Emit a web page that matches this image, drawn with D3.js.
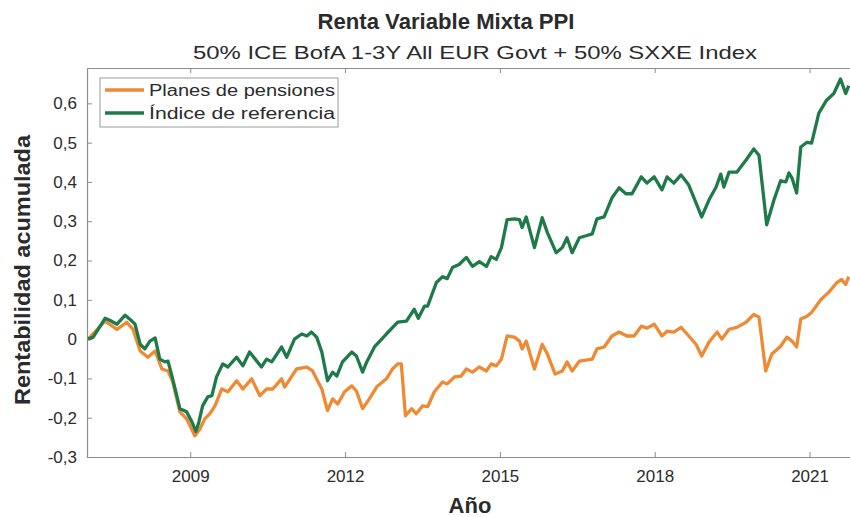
<!DOCTYPE html>
<html lang="es">
<head>
<meta charset="UTF-8">
<title>Renta Variable Mixta PPI</title>
<script src="https://d3js.org/d3.v7.min.js"></script>
<style>
    body { margin: 0; background: #fff; }
    text { font-family: "Liberation Sans", Arial, sans-serif; fill: #2b2b2b; }
</style>
</head>
<body>
<div id="chart"></div>
<script>
// series (decimal year, cumulative return)
var planYears = [2007.02, 2007.35, 2007.58, 2007.77, 2007.89, 2008.03, 2008.18, 2008.32, 2008.45, 2008.57,
    2008.66, 2008.80, 2008.93, 2009.09, 2009.19, 2009.28, 2009.38, 2009.48, 2009.61, 2009.73,
    2009.90, 2010.02, 2010.19, 2010.35, 2010.48, 2010.60, 2010.77, 2010.83, 2011.06, 2011.26,
    2011.37, 2011.55, 2011.66, 2011.76, 2011.86, 2011.99, 2012.13, 2012.22, 2012.34, 2012.47,
    2012.61, 2012.80, 2012.92, 2013.02, 2013.09, 2013.17, 2013.29, 2013.38, 2013.50, 2013.60,
    2013.73, 2013.89, 2013.98, 2014.12, 2014.25, 2014.35, 2014.47, 2014.60, 2014.74, 2014.83,
    2014.93, 2015.03, 2015.14, 2015.28, 2015.38, 2015.43, 2015.51, 2015.67, 2015.82, 2015.92,
    2016.07, 2016.21, 2016.30, 2016.40, 2016.54, 2016.79, 2016.88, 2017.02, 2017.17, 2017.31,
    2017.46, 2017.60, 2017.74, 2017.85, 2017.99, 2018.14, 2018.24, 2018.37, 2018.51, 2018.66,
    2018.80, 2018.91, 2019.05, 2019.21, 2019.30, 2019.44, 2019.59, 2019.77, 2019.92, 2020.02,
    2020.15, 2020.27, 2020.44, 2020.56, 2020.66, 2020.75, 2020.83, 2020.95, 2021.04, 2021.22,
    2021.37, 2021.53, 2021.62, 2021.70, 2021.76];
var planValues = [0.000, 0.046, 0.025, 0.043, 0.025, -0.030, -0.046, -0.030, -0.076, -0.081,
    -0.109, -0.185, -0.203, -0.246, -0.228, -0.203, -0.190, -0.170, -0.127, -0.134,
    -0.106, -0.127, -0.101, -0.144, -0.127, -0.127, -0.101, -0.122, -0.076, -0.071,
    -0.081, -0.127, -0.182, -0.152, -0.165, -0.134, -0.119, -0.132, -0.177, -0.152,
    -0.122, -0.101, -0.076, -0.063, -0.063, -0.195, -0.177, -0.190, -0.170, -0.172,
    -0.134, -0.109, -0.114, -0.096, -0.094, -0.076, -0.084, -0.071, -0.081, -0.063,
    -0.068, -0.051, 0.008, 0.005, -0.005, -0.025, -0.005, -0.076, -0.013, -0.038,
    -0.089, -0.081, -0.058, -0.081, -0.056, -0.051, -0.025, -0.020, 0.008, 0.018,
    0.008, 0.008, 0.033, 0.028, 0.038, 0.008, 0.020, 0.018, 0.030, 0.008,
    -0.013, -0.043, -0.008, 0.018, 0.000, 0.025, 0.030, 0.043, 0.063, 0.056,
    -0.081, -0.038, -0.018, 0.005, -0.005, -0.020, 0.051, 0.058, 0.068, 0.101,
    0.119, 0.144, 0.152, 0.139, 0.159];

var indexYears = [2007.02, 2007.12, 2007.35, 2007.44, 2007.58, 2007.74, 2007.87, 2007.93, 2008.03, 2008.12,
    2008.22, 2008.32, 2008.41, 2008.51, 2008.57, 2008.66, 2008.80, 2008.93, 2009.03, 2009.11,
    2009.17, 2009.24, 2009.34, 2009.42, 2009.51, 2009.63, 2009.73, 2009.90, 2010.02, 2010.15,
    2010.29, 2010.38, 2010.48, 2010.58, 2010.77, 2010.87, 2011.02, 2011.16, 2011.26, 2011.35,
    2011.45, 2011.55, 2011.66, 2011.76, 2011.84, 2011.95, 2012.13, 2012.22, 2012.34, 2012.42,
    2012.57, 2012.80, 2013.02, 2013.19, 2013.34, 2013.42, 2013.54, 2013.60, 2013.77, 2013.89,
    2013.98, 2014.08, 2014.21, 2014.35, 2014.47, 2014.60, 2014.74, 2014.83, 2014.93, 2015.03,
    2015.14, 2015.28, 2015.38, 2015.43, 2015.51, 2015.67, 2015.82, 2015.92, 2016.09, 2016.21,
    2016.30, 2016.40, 2016.54, 2016.67, 2016.79, 2016.88, 2017.02, 2017.17, 2017.31, 2017.44,
    2017.56, 2017.74, 2017.85, 2017.99, 2018.14, 2018.24, 2018.37, 2018.51, 2018.66, 2018.80,
    2018.91, 2019.05, 2019.19, 2019.28, 2019.34, 2019.44, 2019.59, 2019.77, 2019.92, 2020.02,
    2020.17, 2020.31, 2020.44, 2020.54, 2020.60, 2020.66, 2020.75, 2020.83, 2020.95, 2021.04,
    2021.18, 2021.33, 2021.47, 2021.60, 2021.70, 2021.76];
var indexValues = [0.000, 0.005, 0.053, 0.048, 0.038, 0.061, 0.046, 0.038, -0.013, -0.025,
    -0.005, 0.003, -0.051, -0.058, -0.056, -0.101, -0.177, -0.185, -0.210, -0.235,
    -0.210, -0.170, -0.147, -0.144, -0.096, -0.063, -0.071, -0.046, -0.068, -0.033,
    -0.056, -0.071, -0.051, -0.058, -0.020, -0.046, 0.000, 0.013, 0.008, 0.018,
    0.005, -0.033, -0.106, -0.084, -0.094, -0.058, -0.033, -0.043, -0.084, -0.058,
    -0.020, 0.013, 0.043, 0.046, 0.076, 0.053, 0.084, 0.084, 0.144, 0.159,
    0.154, 0.182, 0.190, 0.208, 0.185, 0.197, 0.185, 0.210, 0.203, 0.233,
    0.304, 0.306, 0.304, 0.284, 0.311, 0.233, 0.309, 0.271, 0.220, 0.233,
    0.258, 0.220, 0.258, 0.263, 0.268, 0.306, 0.311, 0.359, 0.385, 0.370,
    0.370, 0.413, 0.397, 0.413, 0.380, 0.413, 0.397, 0.418, 0.392, 0.347,
    0.311, 0.354, 0.387, 0.420, 0.387, 0.425, 0.425, 0.456, 0.484, 0.468,
    0.291, 0.354, 0.403, 0.400, 0.423, 0.410, 0.372, 0.489, 0.501, 0.499,
    0.575, 0.608, 0.625, 0.662, 0.625, 0.645];

var seriesNames = ["Planes de pensiones", "Índice de referencia"];
var seriesColors = ["#ee8a33", "#1f7a4a"];
var xTicks = [2009, 2012, 2015, 2018, 2021];
var yTicks = [-0.3, -0.2, -0.1, 0, 0.1, 0.2, 0.3, 0.4, 0.5, 0.6];

var W = 850, H = 517;
var margin = { left: 87, right: 856, top: 68, bottom: 457 };

var svg = d3.select("#chart").append("svg")
    .attr("width", W)
    .attr("height", H);

svg.append("rect").attr("width", W).attr("height", H).attr("fill", "#fff");

var x = d3.scaleLinear().domain([2007, 2021.9]).range([margin.left, margin.right]);
var y = d3.scaleLinear().domain([-0.3, 0.69]).range([margin.bottom, margin.top]);

var fmt = function(v) {
    var s = (+v.toFixed(1)).toString();
    return s.replace(".", ",");
};

var axisColor = "#8c8c8c";

// x axis, ticks pointing inward like the original
var xAxis = svg.append("g")
    .attr("transform", "translate(0," + margin.bottom + ")")
    .call(d3.axisBottom(x).tickValues(xTicks).tickSizeInner(-5).tickSizeOuter(0).tickPadding(13).tickFormat(d3.format("d")));
var xTop = svg.append("g")
    .attr("transform", "translate(0," + margin.top + ")")
    .call(d3.axisTop(x).tickValues(xTicks).tickSizeInner(-5).tickSizeOuter(0).tickFormat(""));
var yAxis = svg.append("g")
    .attr("transform", "translate(" + margin.left + ",0)")
    .call(d3.axisLeft(y).tickValues(yTicks).tickSizeInner(-5).tickSizeOuter(0).tickPadding(10).tickFormat(fmt));

[xAxis, xTop, yAxis].forEach(function(g) {
    g.select(".domain").attr("stroke", axisColor).attr("stroke-width", 1.2);
    g.selectAll(".tick line").attr("stroke", axisColor);
    g.selectAll(".tick text")
        .style("font-family", "'Liberation Sans', Arial, sans-serif")
        .style("font-size", "17px")
        .attr("fill", "#2b2b2b");
});

// lines
var line = d3.line()
    .x(function(d) { return x(d[0]); })
    .y(function(d) { return y(d[1]); });

var planData = planYears.map(function(t, i) { return [t, planValues[i]]; });
var indexData = indexYears.map(function(t, i) { return [t, indexValues[i]]; });

[planData, indexData].forEach(function(data, i) {
    svg.append("path")
        .datum(data)
        .attr("fill", "none")
        .attr("stroke", seriesColors[i])
        .attr("stroke-width", 3.3)
        .attr("stroke-linejoin", "round")
        .attr("d", line);
});

// titles
svg.append("text")
    .attr("x", 446).attr("y", 29)
    .attr("text-anchor", "middle")
    .style("font-size", "22px").style("font-weight", "bold")
    .attr("textLength", 257).attr("lengthAdjust", "spacingAndGlyphs")
    .text("Renta Variable Mixta PPI");

svg.append("text")
    .attr("x", 475).attr("y", 59)
    .attr("text-anchor", "middle")
    .style("font-size", "18px")
    .attr("textLength", 564).attr("lengthAdjust", "spacingAndGlyphs")
    .text("50% ICE BofA 1-3Y All EUR Govt  + 50% SXXE Index");

svg.append("text")
    .attr("x", 470).attr("y", 513)
    .attr("text-anchor", "middle")
    .style("font-size", "22px").style("font-weight", "bold")
    .text("Año");

svg.append("text")
    .attr("transform", "translate(30,270) rotate(-90)")
    .attr("text-anchor", "middle")
    .style("font-size", "22px").style("font-weight", "bold")
    .attr("textLength", 270).attr("lengthAdjust", "spacingAndGlyphs")
    .text("Rentabilidad acumulada");

// legend
var legend = svg.append("g");
legend.append("rect")
    .attr("x", 100).attr("y", 78)
    .attr("width", 238).attr("height", 49)
    .attr("fill", "#fff")
    .attr("stroke", "#9a9a9a");

seriesNames.forEach(function(name, i) {
    var ly = 90 + i * 23;
    legend.append("line")
        .attr("x1", 105).attr("x2", 144)
        .attr("y1", ly).attr("y2", ly)
        .attr("stroke", seriesColors[i])
        .attr("stroke-width", 3.3);
    legend.append("text")
        .attr("x", 149).attr("y", ly + 6)
        .style("font-size", "16px")
        .attr("textLength", 186).attr("lengthAdjust", "spacingAndGlyphs")
        .text(name);
});
</script>
</body>
</html>
